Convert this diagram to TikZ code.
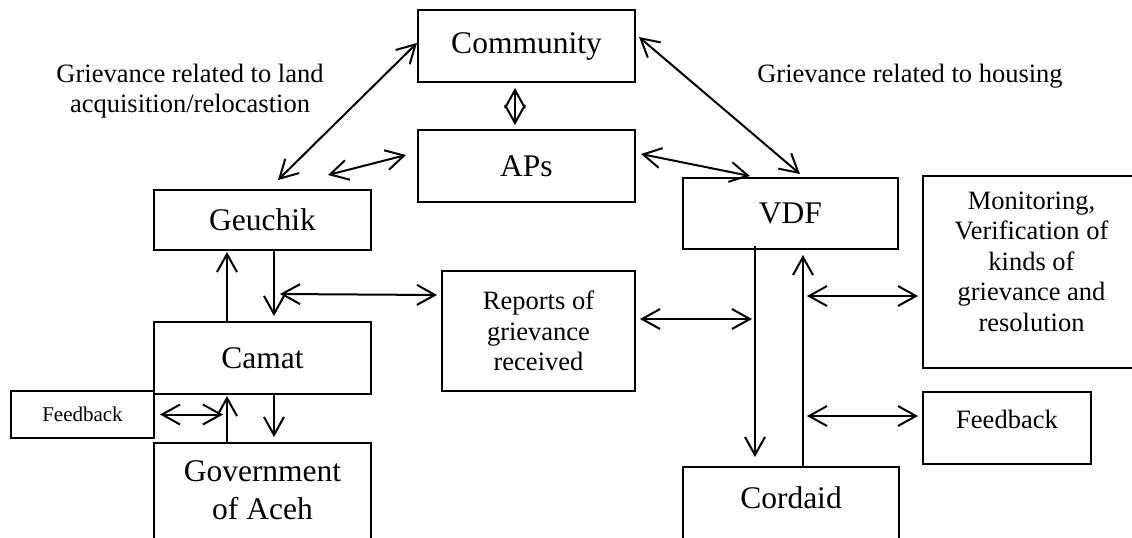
\documentclass[tikz,border=0pt]{standalone}
\usepackage{fontspec}
\setmainfont{Liberation Serif}
\usetikzlibrary{arrows.meta}

\newcommand{\bigfont}{\fontsize{15.75pt}{19pt}\selectfont}
\newcommand{\midfont}{\fontsize{13.25pt}{15.25pt}\selectfont}
\newcommand{\smallfont}{\fontsize{10.5pt}{12pt}\selectfont}

\begin{document}
\begin{tikzpicture}[x=0.5pt, y=-0.5pt, line width=1pt, >={Straight Barb[length=9pt,width=10pt]},
        box/.style = {draw, align=center, font=\bigfont},
        topbox/.style = {box, anchor=north, inner ysep=0pt},
        lbl/.style = {align=center, font=\midfont}]
    \useasboundingbox (0,0) rectangle (1132,537);
    \clip (0,0) rectangle (1132,537);

    % left branch
    \node[box, minimum width=108.5pt, minimum height=36pt] (community) at (526.5,46) {Community};
    \node[box, minimum width=108.5pt, minimum height=36pt] (aps) at (526.5,166) {APs};
    \node[box, minimum width=108.5pt, minimum height=30pt] (geuchik) at (262.5,220) {Geuchik};
    \node[box, minimum width=108.5pt, minimum height=36pt] (camat) at (262.5,358) {Camat};
    \node[box, font=\smallfont, minimum width=71.5pt, minimum height=23.5pt] (fbleft) at (82.5,414.5) {Feedback};
    \node[topbox, minimum width=108.5pt, text height=38pt, text depth=30pt] (gov) at (262.5,442) {Government\\of Aceh};
    \node[box, font=\midfont, minimum width=96.5pt, minimum height=60pt] (reports) at (538.5,331) {Reports of\\grievance\\received};

    % right branch
    \node[box, minimum width=107.5pt, minimum height=35.5pt] (vdf) at (790.5,213.5) {VDF};
    \node[topbox, font=\midfont, minimum width=108.5pt, text height=77.5pt, text depth=18.5pt] (monitoring) at (1031.5,175) {Monitoring,\\Verification of\\kinds of\\grievance and\\resolution};
    \node[topbox, font=\midfont, minimum width=84pt, text height=18pt, text depth=18pt] (fbright) at (1007,391) {Feedback};
    \node[topbox, minimum width=108pt, text height=20.5pt, text depth=50pt] (cordaid) at (791,466) {Cordaid};

    \node[lbl] (landlbl) at (190,91) {Grievance related to land\\acquisition/relocastion};
    \node[lbl] (houselbl) at (910,76) {Grievance related to housing};

    % top links
    \draw[<->] ([yshift=1.5pt]community.west) -- ([xshift=7.75pt,yshift=4.5pt]geuchik.north);
    \draw[<->] ([xshift=32.75pt,yshift=7pt]geuchik.north) -- ([xshift=-5.5pt,yshift=5.5pt]aps.west);
    \draw[<->] ([xshift=-5.75pt,yshift=-2.5pt]community.south) -- ([xshift=-5.75pt,yshift=2pt]aps.north);
    \draw[<->] ([xshift=1.5pt,yshift=4.5pt]community.east) -- ([xshift=4.75pt,yshift=1.5pt]vdf.north);
    \draw[<->] ([xshift=2.5pt,yshift=6pt]aps.east) -- ([xshift=-20.25pt,yshift=0.5pt]vdf.north);

    % left chain
    \draw[->] ([xshift=-17.75pt]camat.north) -- ([xshift=-17.75pt,yshift=-0.5pt]geuchik.south);
    \draw[->] ([xshift=5.75pt]geuchik.south) -- ([xshift=5.75pt,yshift=2.5pt]camat.north);
    \draw[<->] ([xshift=-2pt,yshift=18pt]reports.west) -- ([xshift=8.75pt,yshift=13.5pt]camat.north);
    \draw[->] ([xshift=5.75pt]camat.south) -- ([xshift=5.75pt,yshift=2.5pt]gov.north);
    \draw[->] ([xshift=-17.75pt]gov.north) -- ([xshift=-17.75pt,yshift=-0.5pt]camat.south);
    \draw[<->] ([xshift=2.5pt]fbleft.east) -- ([xshift=34pt]fbleft.east);

    % right chain
    \draw[->] ([xshift=-17.75pt,yshift=2pt]vdf.south) -- ([xshift=-18pt,yshift=4.5pt]cordaid.north);
    \draw[->] ([xshift=6pt]cordaid.north) -- ([xshift=6.25pt,yshift=-2.5pt]vdf.south);
    \draw[<->] ([xshift=2pt,yshift=6pt]reports.east) -- ([xshift=58pt,yshift=6pt]reports.east);
    \draw[<->] ([xshift=-57.5pt,yshift=-12pt]monitoring.west) -- ([xshift=-2pt,yshift=-12pt]monitoring.west);
    \draw[<->] ([xshift=-57.5pt,yshift=6pt]fbright.west) -- ([xshift=-2pt,yshift=6pt]fbright.west);
\end{tikzpicture}
\end{document}
